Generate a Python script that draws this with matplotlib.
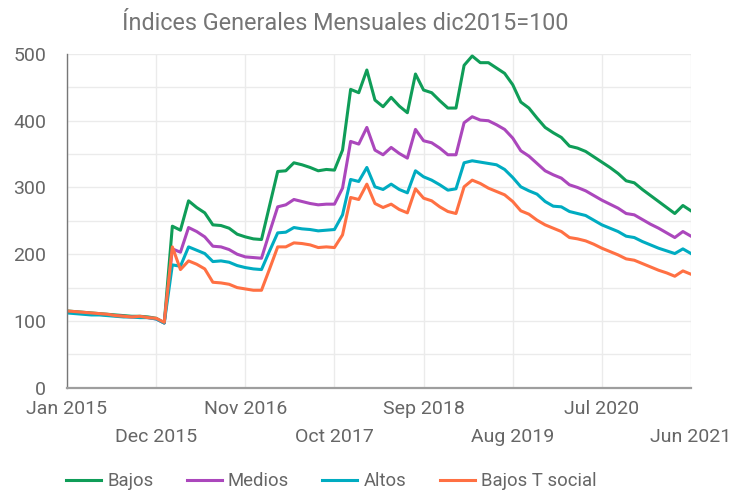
import matplotlib
matplotlib.use("Agg")
import matplotlib.pyplot as plt
from matplotlib.ticker import MultipleLocator, FixedLocator

plt.rcParams["font.family"] = ["Roboto", "DejaVu Sans"]

# meses Jan 2015 .. Jun 2021 (78 valores)
bajos = [115, 114, 113, 112, 111, 110, 109, 108, 107, 107, 106, 104, 97,
         242, 236, 280, 270, 262, 244, 243, 239, 230, 226, 223, 222, 273,
         324, 325, 337, 334, 330, 325, 327, 326, 356, 447, 442, 476, 431,
         421, 435, 422, 412, 470, 446, 442, 430, 419, 419, 483, 497, 487,
         487, 479, 471, 454, 428, 419, 404, 390, 382, 375, 362, 359, 354,
         346, 338, 330, 321, 310, 307, 297, 288, 279, 270, 261, 273, 265]
medios = [114, 113, 112, 111, 110, 109, 108, 107, 106, 106, 105, 103, 97,
          208, 203, 240, 234, 226, 212, 211, 207, 200, 196, 195, 194, 233,
          271, 274, 282, 279, 276, 274, 275, 275, 299, 369, 365, 390, 356,
          349, 360, 351, 344, 387, 370, 367, 359, 349, 349, 397, 406, 401,
          400, 394, 387, 374, 355, 347, 336, 325, 319, 314, 304, 300, 295,
          288, 281, 275, 269, 261, 259, 252, 245, 239, 232, 225, 234, 227]
altos = [112, 111, 110, 109, 109, 108, 107, 106, 106, 105, 105, 103, 97,
         184, 182, 211, 206, 201, 189, 190, 188, 183, 180, 178, 177, 205,
         232, 233, 240, 238, 237, 235, 236, 237, 259, 312, 309, 330, 301,
         297, 305, 297, 292, 325, 316, 311, 304, 296, 298, 337, 340, 338,
         336, 334, 327, 315, 301, 295, 290, 279, 272, 271, 264, 261, 258,
         251, 244, 239, 234, 227, 225, 219, 214, 209, 205, 201, 208, 201]
bajos_ts = [115, 114, 113, 112, 111, 110, 108, 107, 106, 107, 105, 104, 98,
            211, 177, 190, 185, 178, 158, 157, 155, 150, 148, 146, 146, 178,
            211, 211, 217, 216, 214, 210, 211, 210, 229, 285, 282, 305, 276,
            270, 275, 267, 262, 298, 284, 280, 271, 264, 261, 301, 311, 306,
            299, 294, 289, 279, 265, 260, 251, 244, 239, 234, 225, 223, 220,
            215, 209, 204, 199, 193, 191, 186, 181, 176, 172, 167, 175, 170]

tick_labels = ["Jan 2015", "Dec 2015", "Nov 2016", "Oct 2017",
               "Sep 2018", "Aug 2019", "Jul 2020", "Jun 2021"]

series = [("Bajos", bajos, "#0f9d58"),
          ("Medios", medios, "#ab47bc"),
          ("Altos", altos, "#00acc1"),
          ("Bajos T social", bajos_ts, "#ff7043")]

fig = plt.figure(figsize=(7.32, 4.90), dpi=100)
ax = fig.add_axes([67 / 732, 1 - 387.7 / 490, (691 - 67) / 732, (387.7 - 54) / 490])

x = list(range(len(bajos)))
for name, vals, col in series:
    ax.plot(x, vals, color=col, lw=2.2, label=name, solid_joinstyle="round")

ax.set_xlim(0, 77)
ax.set_ylim(0, 500)

# dos filas de etiquetas: mayores arriba, menores abajo
ax.xaxis.set_major_locator(FixedLocator([0, 22, 44, 66]))
ax.xaxis.set_minor_locator(FixedLocator([11, 33, 55, 77]))
ax.set_xticklabels(tick_labels[0::2])
ax.set_xticklabels(tick_labels[1::2], minor=True)
ax.tick_params(axis="x", which="major", length=0, pad=9, labelsize=14, labelcolor="#666666")
ax.tick_params(axis="x", which="minor", length=0, pad=29, labelsize=14, labelcolor="#666666")

ax.yaxis.set_major_locator(MultipleLocator(100))
ax.yaxis.set_minor_locator(MultipleLocator(50))
ax.tick_params(axis="y", which="both", length=0, pad=15, labelsize=14, labelcolor="#666666")

ax.grid(True, which="both", color="#ebebeb", lw=1)
ax.set_axisbelow(True)
for s in ["top", "right"]:
    ax.spines[s].set_visible(False)
ax.spines["left"].set_color("#777777")
ax.spines["left"].set_linewidth(1)
ax.spines["bottom"].set_color("#9e9e9e")
ax.spines["bottom"].set_linewidth(1.6)

fig.text(345 / 732, 1 - 23 / 490, "Índices Generales Mensuales dic2015=100",
         ha="center", va="center", fontsize=16.8, color="#757575")

fig.legend(loc="center left", bbox_to_anchor=(66 / 732, 1 - 481 / 490), ncol=4,
           frameon=False, fontsize=13.3, handlelength=1.9, handletextpad=0.33,
           columnspacing=1.8, borderpad=0, borderaxespad=0, labelcolor="#666666")

fig.savefig("out.png", dpi=100)
